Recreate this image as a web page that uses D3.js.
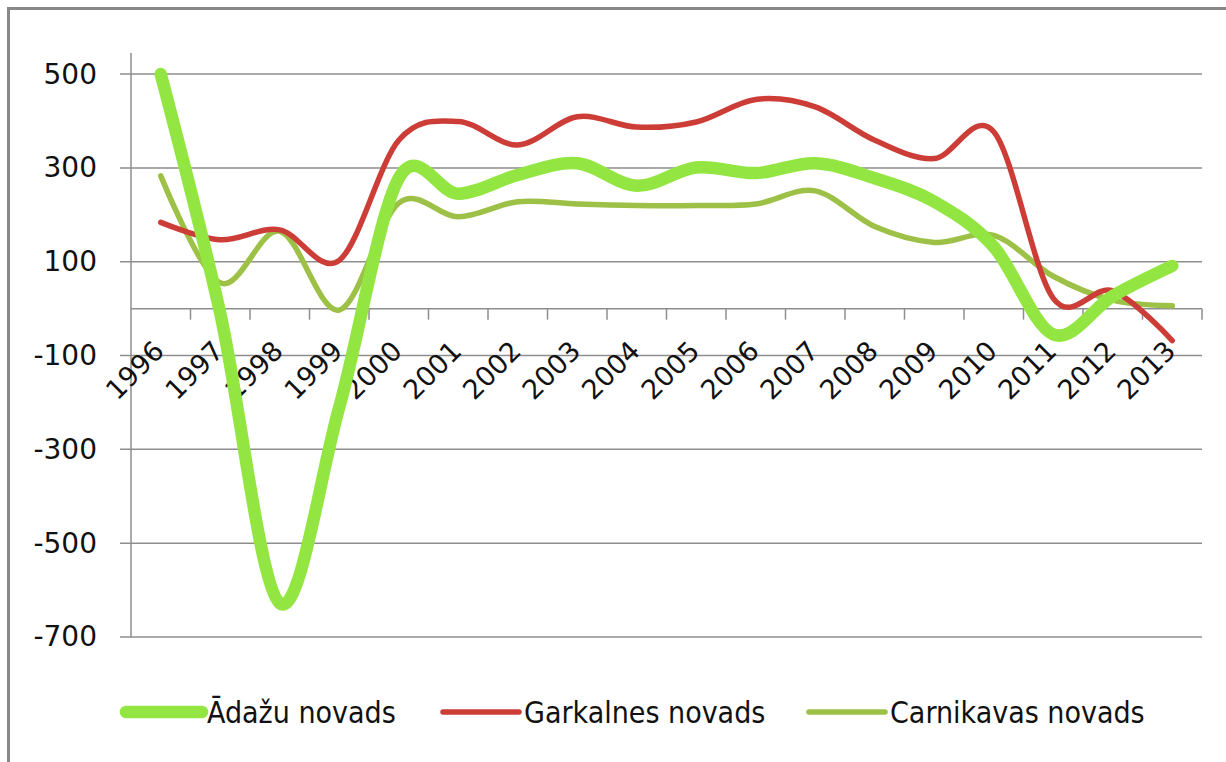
<!DOCTYPE html>
<html>
<head>
<meta charset="utf-8">
<script src="https://cdn.jsdelivr.net/npm/d3@7"></script>
<style>
  body { margin: 0; background: #fff; }
</style>
</head>
<body>
<div id="chart"></div>
<script>
const years = ["1996","1997","1998","1999","2000","2001","2002","2003","2004","2005","2006","2007","2008","2009","2010","2011","2012","2013"];
const adazu = [500, -10, -628, -210, 278, 245, 285, 310, 262, 301, 289, 310, 278, 228, 132, -55, 27, 91];
const garkalnes = [184, 147, 168, 103, 359, 399, 349, 409, 387, 398, 446, 430, 359, 320, 377, 22, 38, -68];
const carnikavas = [283, 55, 165, -3, 225, 196, 228, 223, 220, 220, 223, 251, 175, 141, 156, 69, 18, 6];
const yTicks = [-700, -500, -300, -100, 100, 300, 500];
const seriesNames = ["Ādažu novads", "Garkalnes novads", "Carnikavas novads"];

let width = 1226, height = 762;
let plot = { left: 131, right: 1202, top: 53, bottom: 637 };

let svg = d3.select("#chart")
    .append("svg")
    .attr("width", width)
    .attr("height", height);

// outer frame
svg.append("rect")
    .attr("x", 8.5).attr("y", 8.5)
    .attr("width", 1240).attr("height", 800)
    .attr("fill", "none")
    .attr("stroke", "#888")
    .attr("stroke-width", 3);

let x = d3.scaleBand()
    .domain(years)
    .range([plot.left, plot.right]);

let y = d3.scaleLinear()
    .domain([-700, 545])
    .range([plot.bottom, plot.top]);

// gridlines
svg.append("g")
    .selectAll("line")
    .data(yTicks)
    .enter()
    .append("line")
    .attr("x1", plot.left - 11)
    .attr("x2", plot.right)
    .attr("y1", d => y(d))
    .attr("y2", d => y(d))
    .attr("stroke", "#8e8e8e")
    .attr("stroke-width", 1.5);

// y axis
let yAxis = d3.axisLeft(y)
    .tickValues(yTicks)
    .tickSize(0)
    .tickPadding(34)
    .tickFormat(d => String(d));
let yAxisGroup = svg.append("g")
    .attr("class", "y-axis axis")
    .attr("transform", "translate(" + plot.left + ",0)")
    .call(yAxis);
yAxisGroup.select(".domain").remove();
yAxisGroup.selectAll("text")
    .style("font-family", "'DejaVu Sans', sans-serif")
    .style("font-size", "28px")
    .style("fill", "#111");

svg.append("line")
    .attr("x1", plot.left).attr("x2", plot.left)
    .attr("y1", plot.top).attr("y2", plot.bottom)
    .attr("stroke", "#8e8e8e")
    .attr("stroke-width", 1.5);

// x axis at zero
let xAxisGroup = svg.append("g").attr("class", "x-axis axis");
xAxisGroup.append("line")
    .attr("x1", plot.left).attr("x2", plot.right)
    .attr("y1", y(0)).attr("y2", y(0))
    .attr("stroke", "#8e8e8e")
    .attr("stroke-width", 1.5);

let boundaries = years.map(d => x(d)).concat([x(years[years.length - 1]) + x.bandwidth()]);
xAxisGroup.selectAll("line.tick")
    .data(boundaries.slice(1))
    .enter()
    .append("line")
    .attr("class", "tick")
    .attr("x1", d => d).attr("x2", d => d)
    .attr("y1", y(0)).attr("y2", y(0) + 11)
    .attr("stroke", "#8e8e8e")
    .attr("stroke-width", 1.5);

xAxisGroup.selectAll("text")
    .data(years)
    .enter()
    .append("text")
    .attr("text-anchor", "end")
    .attr("transform", d => "translate(" + (x(d) + x.bandwidth() / 2 + 5) + "," + (y(0) + 44) + ") rotate(-45)")
    .text(d => d)
    .style("font-family", "'DejaVu Sans', sans-serif")
    .style("font-size", "27px")
    .style("fill", "#111");

// ---- DRAW LINES ----
let series = [
    { name: seriesNames[0], values: adazu, color: "#93e641", width: 12.5 },
    { name: seriesNames[1], values: garkalnes, color: "#cd3d37", width: 5.5 },
    { name: seriesNames[2], values: carnikavas, color: "#9cc146", width: 5.5 }
];

let line = d3.line()
    .x((d, i) => x(years[i]) + x.bandwidth() / 2)
    .y(d => y(d))
    .curve(d3.curveCardinal.tension(0));

// thin lines under the thick one
[series[2], series[1], series[0]].forEach(s => {
    svg.append("path")
        .datum(s.values)
        .attr("d", line)
        .attr("fill", "none")
        .attr("stroke", s.color)
        .attr("stroke-width", s.width)
        .attr("stroke-linecap", "round")
        .attr("stroke-linejoin", "round");
});

// legend
let legendX = [126, 443, 809];
let legend = svg.append("g").attr("class", "legend");
series.forEach((s, i) => {
    legend.append("line")
        .attr("x1", legendX[i]).attr("x2", legendX[i] + 76)
        .attr("y1", 712).attr("y2", 712)
        .attr("stroke", s.color)
        .attr("stroke-width", s.width)
        .attr("stroke-linecap", "round");
    legend.append("text")
        .attr("x", legendX[i] + 81)
        .attr("y", 712)
        .attr("dy", "0.35em")
        .text(s.name)
        .style("font-family", "'Liberation Sans Narrow', 'DejaVu Sans Condensed', sans-serif")
        .style("font-size", "30px")
        .style("fill", "#111");
});
</script>
</body>
</html>
